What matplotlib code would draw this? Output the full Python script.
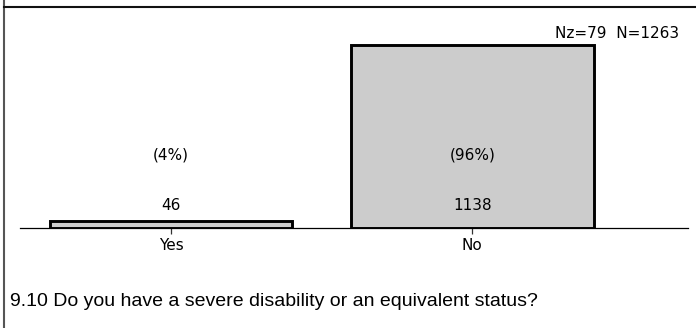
import matplotlib
matplotlib.use("Agg")
import matplotlib.pyplot as plt
from matplotlib.lines import Line2D
from matplotlib.transforms import blended_transform_factory

categories = ["Yes", "No"]
counts = [46, 1138]
percents = ["(4%)", "(96%)"]
nz, n_total = 79, 1263
question = "9.10 Do you have a severe disability or an equivalent status?"

W, H = 696, 328
fig = plt.figure(figsize=(W / 100, H / 100), dpi=100)
fig.patch.set_facecolor("white")


def fx(px):
    return px / W


def fy(py):
    return 1 - py / H


# plot area: baseline at y=228, spans x 20..688
ax = fig.add_axes([fx(20), fy(228), fx(668), (228 - 20) / H])
x = range(len(categories))
ax.bar(x, counts, width=0.805, color="#cccccc", edgecolor="black", linewidth=2.1, zorder=3)
ax.set_xlim(-0.5017, 1.716)
ax.set_ylim(0, 1138 * 208 / 183)

for s in ["top", "right", "left"]:
    ax.spines[s].set_visible(False)
ax.spines["bottom"].set_linewidth(0.9)
ax.set_yticks([])
ax.set_xticks(list(x))
ax.set_xticklabels(categories, fontsize=11, family="DejaVu Sans")
ax.tick_params(axis="x", direction="inout", length=8, width=0.9, color="#333333", pad=3.5)

tr = blended_transform_factory(ax.transData, fig.transFigure)
for i, (c, p) in enumerate(zip(counts, percents)):
    ax.text(i, fy(205), str(c), transform=tr, ha="center", va="center", fontsize=11, zorder=5)
    ax.text(i, fy(155), p, transform=tr, ha="center", va="center", fontsize=11, zorder=5)

fig.text(fx(679), fy(34), f"Nz={nz}  N={n_total}", ha="right", va="center", fontsize=11)
fig.text(fx(10), fy(302), question, ha="left", va="center", fontsize=14,
         family="Liberation Sans")

# frame lines: left border and top rule
fig.add_artist(Line2D([fx(4.3), fx(4.3)], [0, 1], color="#555555", linewidth=1.5))
fig.add_artist(Line2D([fx(4), 1], [fy(6.7), fy(6.7)], color="#111111", linewidth=1.5))

fig.savefig("out.png", dpi=100)
